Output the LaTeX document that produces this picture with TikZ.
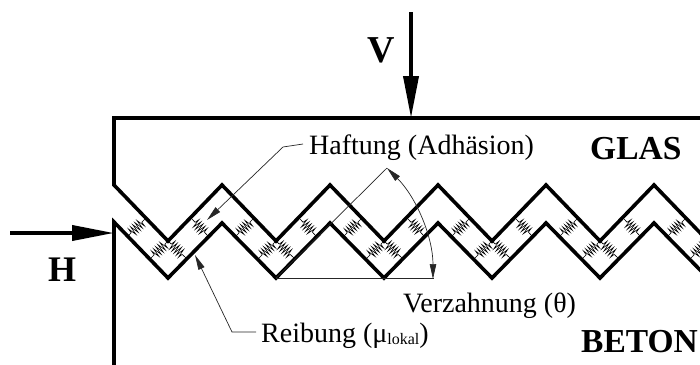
\documentclass[tikz,border=0pt]{standalone}
\usepackage{fontspec}
\setmainfont{Liberation Serif}
\usetikzlibrary{arrows.meta,decorations.pathmorphing}
\tikzset{
  x=1pt,y=-1pt,
  wall/.style={line width=3.6pt,line join=miter,miter limit=10},
  leader/.style={line width=0.7pt,draw=black!85},
  force/.style={line width=3.8pt,-{Stealth[inset=0pt,length=42pt,width=15pt]}},
  tip/.style={-{Stealth[inset=0pt,length=15pt,width=6.5pt]}},
  spring/.style={line width=0.6pt,decorate,decoration={zigzag,segment length=3pt,amplitude=4.6pt,pre length=4.5pt,post length=4.5pt}},
  label/.style={inner sep=0pt,anchor=base west,font=\fontsize{28}{28}\selectfont},
  heavy/.style={inner sep=0pt,anchor=base west,font=\fontsize{33.5}{33.5}\selectfont\bfseries}
}
\begin{document}
\begin{tikzpicture}
\useasboundingbox (0,0) rectangle (700,364);
\clip (0,0) rectangle (700,364);
% named points
\coordinate (vtop) at (411,12);
\coordinate (vend) at (411,118);
\coordinate (htop) at (10,233);
\coordinate (hend) at (114,233);
\coordinate (apex) at (387,168);
\coordinate (vertex) at (276,278);
\coordinate (base) at (434,278);
% springs
\foreach \v in {168,276,384,492,600,708}{
  \draw[spring] (\v,241) -- (\v-17,258);
  \draw[spring] (\v,241) -- (\v+18,258);
  \draw[spring] (\v+24,219) -- (\v+40,236);
  \draw[spring] (\v-23,219) -- (\v-40,236);
}
% glass
\draw[wall] (702,118) -- (114,118) -- (114,185) -- (168,241) -- (222,185) -- (276,241) -- (330,185) -- (384,241) -- (438,185) -- (492,241) -- (546,185) -- (600,241) -- (654,185) -- (708,241);
% concrete
\draw[wall] (114,366) -- (114,222) -- (168,278) -- (222,223) -- (276,278) -- (330,223) -- (384,278) -- (438,223) -- (492,278) -- (546,223) -- (600,278) -- (654,223) -- (708,278);
% forces
\draw[force] (vtop) -- (vend);
\draw[force] (htop) -- (hend);
% labels
\node[heavy,font=\fontsize{38}{38}\selectfont\bfseries] (V) at (367,62) {V};
\node[heavy,font=\fontsize{36}{36}\selectfont\bfseries] (H) at (48,281) {H};
\node[heavy] (glas) at (590,159) {GLAS};
\node[heavy] (beton) at (581,352) {BETON};
\node[label] (haft) at (309,154) {Haftung (Adhäsion)};
\node[label] (verz) at (403,312) {Verzahnung (θ)};
\node[label] (reib) at (261,342) {Reibung (μ\raisebox{-2pt}{\fontsize{16}{16}\selectfont lokal})};
% leaders
\coordinate (h1) at (283,147);
\coordinate (h2) at (207,220);
\coordinate (r1) at (232,332);
\coordinate (r2) at (195,255);
\draw[leader,tip] (haft.west |- 0,144) ++(-6,0) -- (h1) -- (h2);
\draw[leader,tip] (reib.west |- 0,332) ++(-5,0) -- (r1) -- (r2);
\draw[leader] (vertex) -- (apex);
\draw[leader] (vertex) -- (base);
\draw[leader,{Stealth[inset=0pt,length=15pt,width=6.5pt]}-{Stealth[inset=0pt,length=15pt,width=6.5pt]}] (apex) arc[start angle=-45,end angle=0,radius=157,y=1pt,x=1pt];
\end{tikzpicture}
\end{document}
